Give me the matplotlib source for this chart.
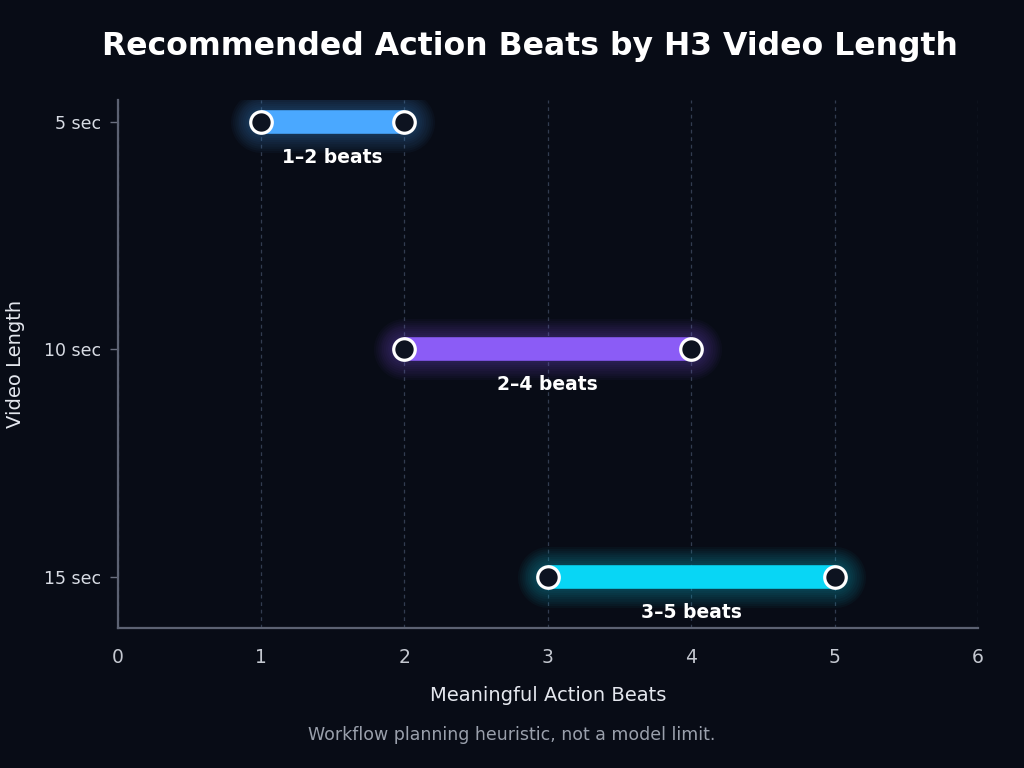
import matplotlib
matplotlib.use("Agg")
import matplotlib.pyplot as plt

categories = ["5 sec", "10 sec", "15 sec"]
beat_min = [1, 2, 3]
beat_max = [2, 4, 5]
range_labels = ["1–2 beats", "2–4 beats", "3–5 beats"]
bar_colors = ["#4aa8ff", "#8b5cf6", "#08d6f5"]
x_ticks = [0, 1, 2, 3, 4, 5, 6]

bg = "#080c16"
fig = plt.figure(figsize=(10.24, 7.68), dpi=100, facecolor=bg)
ax = fig.add_axes([0.115, 0.182, 0.84, 0.688], facecolor=bg)

ypos = list(range(len(categories)))
for y, lo, hi, col, lab in zip(ypos, beat_min, beat_max, bar_colors, range_labels):
    # soft glow
    for lw in range(44, 18, -3):
        ax.plot([lo, hi], [y, y], color=col, lw=lw, alpha=0.035, solid_capstyle="round", zorder=2)
    ax.plot([lo, hi], [y, y], color=col, lw=17, solid_capstyle="butt", zorder=3)
    ax.plot([lo, hi], [y, y], ls="none", marker="o", markersize=15.5,
            markerfacecolor="#0d1320", markeredgecolor="white", markeredgewidth=2.3, zorder=4)
    ax.text((lo + hi) / 2, y + 0.155, lab, ha="center", va="center", color="white",
            fontsize=13.5, fontweight="bold", zorder=5)

ax.set_xlim(0, 6)
ax.set_ylim(2.225, -0.097)
ax.set_xticks(x_ticks)
ax.set_yticks(ypos)
ax.set_yticklabels(categories)
ax.tick_params(axis="x", colors="#6b7080", labelcolor="#c4c8d0", labelsize=13.5, length=0, pad=14)
ax.tick_params(axis="y", colors="#6b7080", labelcolor="#d8dce4", labelsize=12.5, length=6, width=1, pad=6)
for s in ["top", "right"]:
    ax.spines[s].set_visible(False)
for s in ["left", "bottom"]:
    ax.spines[s].set_color("#5c6272")
    ax.spines[s].set_linewidth(1.6)
ax.xaxis.grid(True, color="#323c50", ls=(0, (3, 3)), lw=0.9)
ax.set_axisbelow(True)

ax.set_xlabel("Meaningful Action Beats", color="#e4e7ee", fontsize=14, labelpad=14)
ax.set_ylabel("Video Length", color="#e4e7ee", fontsize=14, labelpad=14)

fig.text(0.518, 0.94, "Recommended Action Beats by H3 Video Length", ha="center", va="center",
         color="white", fontsize=22.7, fontweight="bold")
fig.text(0.50, 0.043, "Workflow planning heuristic, not a model limit.", ha="center", va="center",
         color="#9aa0ac", fontsize=12.5)

fig.savefig("out.png", dpi=100, facecolor=bg)
